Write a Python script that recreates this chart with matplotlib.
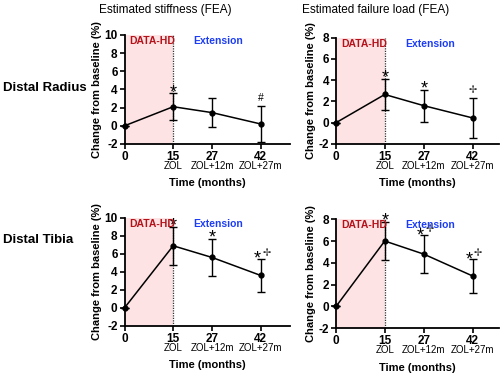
import matplotlib
matplotlib.use("Agg")
import matplotlib.pyplot as plt
from matplotlib.transforms import blended_transform_factory

plt.rcParams['font.family'] = ['Liberation Sans', 'DejaVu Sans']

months = [0, 15, 27, 42]
sub_labels = ["", "ZOL", "ZOL+12m", "ZOL+27m"]

radius_stiffness = [0, 2.1, 1.45, 0.2]
radius_stiffness_err = [0, 1.47, 1.6, 1.95]
radius_failure = [0, 2.65, 1.6, 0.45]
radius_failure_err = [0, 1.45, 1.5, 1.9]
tibia_stiffness = [0, 6.9, 5.6, 3.6]
tibia_stiffness_err = [0, 2.1, 2.1, 1.85]
tibia_failure = [0, 6.0, 4.8, 2.8]
tibia_failure_err = [0, 1.72, 1.73, 1.55]

radius_stiffness_marks = ["", "*", "", "#"]
radius_failure_marks = ["", "*", "*", "\u2722"]
tibia_stiffness_marks = ["", "*", "*", "*\u2722"]
tibia_failure_marks = ["", "*", "*\u2722", "*\u2722"]

col_titles = ["Estimated stiffness (FEA)", "Estimated failure load (FEA)"]
row_titles = ["Distal Radius", "Distal Tibia"]

fig = plt.figure(figsize=(5, 3.75), dpi=100)

panels = [
    ([0.249, 0.616, 0.331, 0.291], radius_stiffness, radius_stiffness_err, radius_stiffness_marks, 10, 51),
    ([0.672, 0.616, 0.325, 0.284], radius_failure, radius_failure_err, radius_failure_marks, 8, 50),
    ([0.249, 0.131, 0.331, 0.288], tibia_stiffness, tibia_stiffness_err, tibia_stiffness_marks, 10, 51),
    ([0.672, 0.1245, 0.325, 0.291], tibia_failure, tibia_failure_err, tibia_failure_marks, 8, 50),
]


def draw_mark(ax, x, y, m):
    if m == "#":
        ax.annotate(m, (x, y), xytext=(0, 2), textcoords='offset points',
                    ha='center', va='bottom', fontsize=7.5, annotation_clip=False)
        return
    if m == "*":
        ax.annotate("*", (x, y), xytext=(0, -5.5), textcoords='offset points',
                    ha='center', va='bottom', fontsize=13, annotation_clip=False)
        return
    if m == "\u2722":
        ax.annotate("\u2722", (x, y), xytext=(0, 2), textcoords='offset points',
                    ha='center', va='bottom', fontsize=7, family=['DejaVu Sans'],
                    color='#222222', annotation_clip=False)
        return
    if m == "*\u2722":
        ax.annotate("*", (x, y), xytext=(-2.5, -6.5), textcoords='offset points',
                    ha='center', va='bottom', fontsize=13, annotation_clip=False)
        ax.annotate("\u2722", (x, y), xytext=(4, 0.5), textcoords='offset points',
                    ha='center', va='bottom', fontsize=7, family=['DejaVu Sans'],
                    color='#222222', annotation_clip=False)


for rect, vals, errs, marks, ymax, xmax in panels:
    ax = fig.add_axes(rect)
    ax.set_xlim(0, xmax)
    ax.set_ylim(-2, ymax)
    ax.axvspan(0, 15, color='#fde3e3', zorder=0, lw=0)
    ax.axvline(15, color='#333333', ls=(0, (1, 1)), lw=0.9, zorder=1)
    ax.errorbar(months, vals, yerr=errs, color='black', lw=1.1, marker='o', ms=3.5,
                capsize=3, capthick=1.0, elinewidth=1.0, zorder=3, clip_on=False)
    for x, v, e, m in zip(months, vals, errs, marks):
        if m:
            draw_mark(ax, x, v + e, m)
    ytxt = ymax - 0.01 * (ymax + 2)
    ax.text(1.6, ytxt, "DATA-HD", color='#b3121b', fontsize=7.5,
            fontweight='bold', va='top', ha='left')
    ax.text(29, ytxt, "Extension", color='#1c3df5', fontsize=7.5,
            fontweight='bold', va='top', ha='center')
    for s in ['top', 'right']:
        ax.spines[s].set_visible(False)
    for s in ['left', 'bottom']:
        ax.spines[s].set_linewidth(1.3)
    ax.set_xticks(months)
    ax.set_xticklabels([str(m) for m in months], fontweight='bold', fontsize=8.5)
    ax.set_yticks(range(-2, ymax + 1, 2))
    ax.set_yticklabels([str(t) for t in range(-2, ymax + 1, 2)], fontweight='bold', fontsize=8.5)
    ax.tick_params(direction='out', length=3.5, width=1.2, pad=1.5)
    tr = blended_transform_factory(ax.transData, ax.transAxes)
    for x, lab in zip(months, sub_labels):
        if lab:
            ax.text(x, -0.155, lab, transform=tr, ha='center', va='top', fontsize=7)
    ax.set_ylabel("Change from baseline (%)", fontweight='bold', fontsize=8, labelpad=2)
    ax.set_xlabel("Time (months)", fontweight='bold', fontsize=8, labelpad=11)

fig.text(0.33, 0.973, col_titles[0], ha='center', va='center', fontsize=8.5)
fig.text(0.752, 0.973, col_titles[1], ha='center', va='center', fontsize=8.5)
fig.text(0.006, 0.765, row_titles[0], ha='left', va='center', fontsize=9.5, fontweight='bold')
fig.text(0.006, 0.36, row_titles[1], ha='left', va='center', fontsize=9.5, fontweight='bold')

fig.savefig("out.png", dpi=100)
